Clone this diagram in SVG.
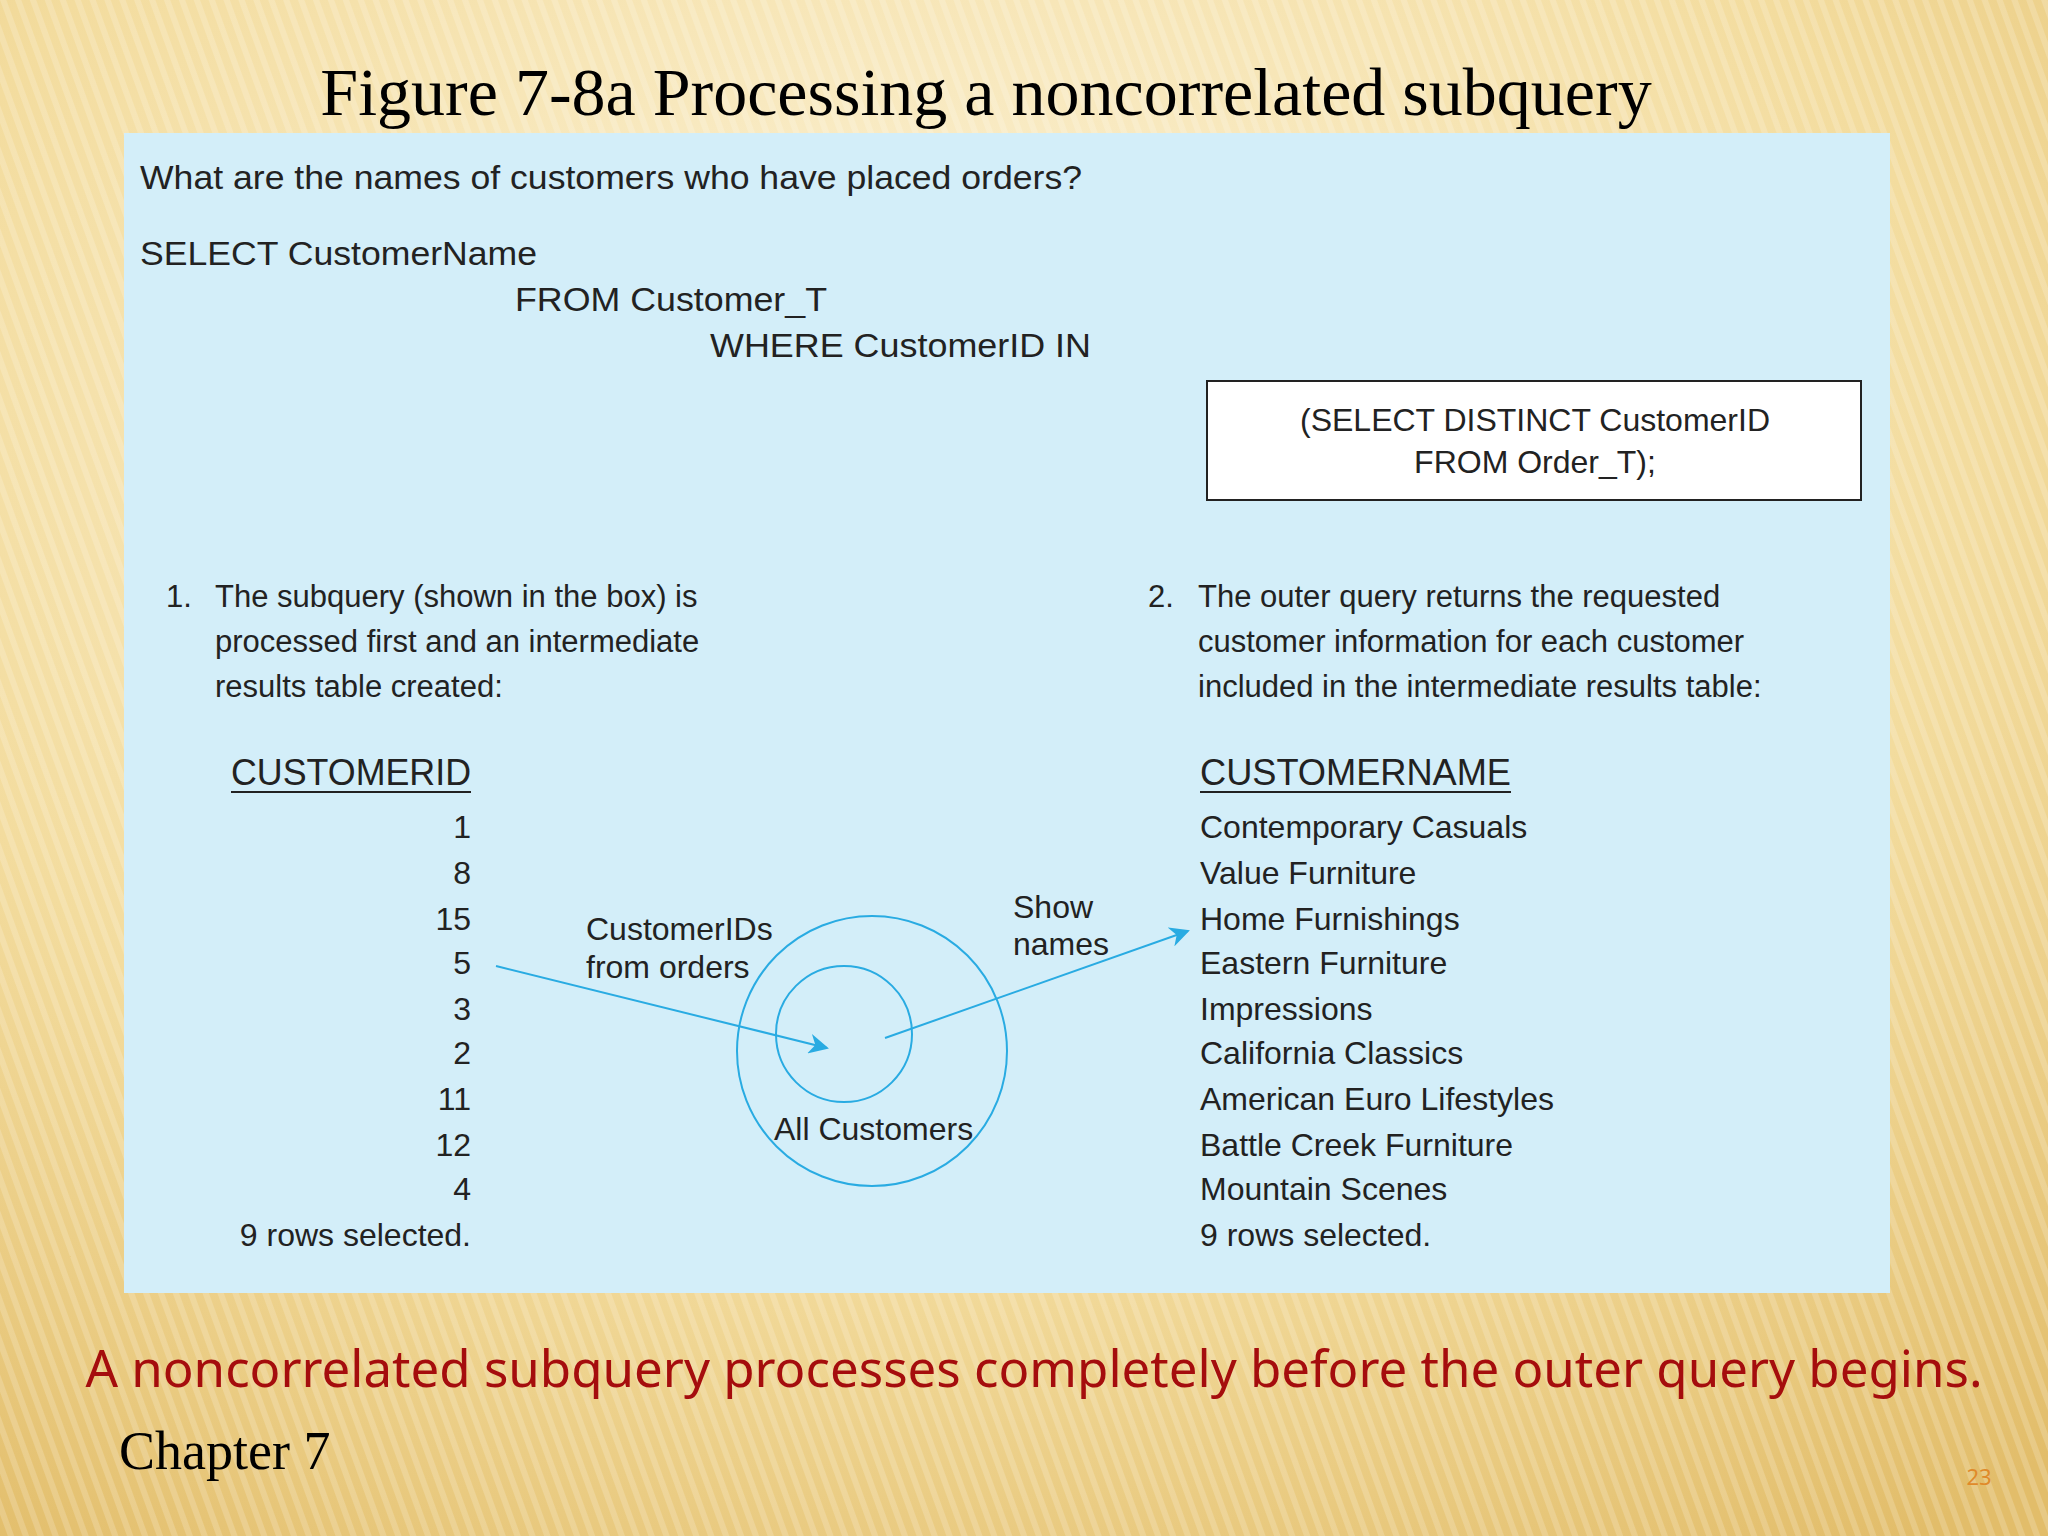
<svg xmlns="http://www.w3.org/2000/svg" width="2048" height="1536" viewBox="0 0 2048 1536">
<defs>
<radialGradient id="bg" cx="0.45" cy="0.3" r="0.85">
<stop offset="0" stop-color="#fdf5de"/><stop offset="0.6" stop-color="#f3dc9e"/><stop offset="1" stop-color="#e2bd6a"/>
</radialGradient>
<pattern id="st" width="14" height="14" patternUnits="userSpaceOnUse" patternTransform="rotate(-20)">
<rect width="6" height="14" fill="#ffffff" opacity="0.18"/>
</pattern>
<marker id="ah" viewBox="0 0 10 10" refX="9" refY="5" markerWidth="20" markerHeight="20" orient="auto" markerUnits="userSpaceOnUse">
<path d="M0,0 L10,5 L0,10 L3,5 z" fill="#29abe2"/>
</marker>
<style>
.s{font-family:"Liberation Sans",Arial,sans-serif;font-size:32px;fill:#222}
.q{font-size:34px}
.p{font-size:31px}
.r{text-anchor:end}
.h{font-size:37px}
.c{stroke:#29abe2;stroke-width:2;fill:none}
</style>
</defs>
<rect width="2048" height="1536" fill="url(#bg)"/>
<rect width="2048" height="1536" fill="url(#st)"/>
<text x="986" y="115" text-anchor="middle" font-family="Liberation Serif,serif" font-size="68" fill="#000">Figure 7-8a Processing a noncorrelated subquery</text>
<rect x="124" y="133" width="1766" height="1160" fill="#d3eef9"/>
<g id="query">
<text class="s q" x="140" y="189" textLength="942" lengthAdjust="spacingAndGlyphs">What are the names of customers who have placed orders?</text>
<text class="s q" x="140" y="265" textLength="397" lengthAdjust="spacingAndGlyphs">SELECT CustomerName</text>
<text class="s q" x="515" y="311" textLength="312" lengthAdjust="spacingAndGlyphs">FROM Customer_T</text>
<text class="s q" x="710" y="357" textLength="381" lengthAdjust="spacingAndGlyphs">WHERE CustomerID IN</text>
</g>
<g id="subbox">
<rect x="1207" y="381" width="654" height="119" fill="#fff" stroke="#222" stroke-width="2"/>
<text class="s" x="1535" y="431" text-anchor="middle">(SELECT DISTINCT CustomerID</text>
<text class="s" x="1535" y="473" text-anchor="middle">FROM Order_T);</text>
</g>
<g id="step1">
<text class="s p" x="166" y="607">1.</text>
<text class="s p" x="215" y="607">The subquery (shown in the box) is</text>
<text class="s p" x="215" y="652">processed first and an intermediate</text>
<text class="s p" x="215" y="697">results table created:</text>
</g>
<g id="step2">
<text class="s p" x="1148" y="607">2.</text>
<text class="s p" x="1198" y="607">The outer query returns the requested</text>
<text class="s p" x="1198" y="652">customer information for each customer</text>
<text class="s p" x="1198" y="697">included in the intermediate results table:</text>
</g>
<g id="ids">
<text class="s r h" x="471" y="785" textLength="240" lengthAdjust="spacingAndGlyphs">CUSTOMERID</text>
<line x1="231" y1="792" x2="471" y2="792" stroke="#222" stroke-width="2"/>
<text class="s r" x="471" y="838">1</text>
<text class="s r" x="471" y="884">8</text>
<text class="s r" x="471" y="930">15</text>
<text class="s r" x="471" y="974">5</text>
<text class="s r" x="471" y="1020">3</text>
<text class="s r" x="471" y="1064">2</text>
<text class="s r" x="471" y="1110">11</text>
<text class="s r" x="471" y="1156">12</text>
<text class="s r" x="471" y="1200">4</text>
<text class="s r" x="471" y="1246">9 rows selected.</text>
</g>
<g id="names">
<text class="s h" x="1200" y="785" textLength="311" lengthAdjust="spacingAndGlyphs">CUSTOMERNAME</text>
<line x1="1200" y1="792" x2="1511" y2="792" stroke="#222" stroke-width="2"/>
<text class="s" x="1200" y="838">Contemporary Casuals</text>
<text class="s" x="1200" y="884">Value Furniture</text>
<text class="s" x="1200" y="930">Home Furnishings</text>
<text class="s" x="1200" y="974">Eastern Furniture</text>
<text class="s" x="1200" y="1020">Impressions</text>
<text class="s" x="1200" y="1064">California Classics</text>
<text class="s" x="1200" y="1110">American Euro Lifestyles</text>
<text class="s" x="1200" y="1156">Battle Creek Furniture</text>
<text class="s" x="1200" y="1200">Mountain Scenes</text>
<text class="s" x="1200" y="1246">9 rows selected.</text>
</g>
<g id="venn">
<circle class="c" cx="872" cy="1051" r="135"/>
<circle class="c" cx="844" cy="1034" r="68"/>
<text class="s" x="774" y="1140">All Customers</text>
<text class="s" x="586" y="940">CustomerIDs</text>
<text class="s" x="586" y="978">from orders</text>
<text class="s" x="1013" y="918">Show</text>
<text class="s" x="1013" y="955">names</text>
</g>
<g id="connectors">
<line class="c" x1="496" y1="966" x2="827" y2="1048" marker-end="url(#ah)"/>
<line class="c" x1="885" y1="1038" x2="1188" y2="931" marker-end="url(#ah)"/>
</g>
<text x="1034" y="1387" text-anchor="middle" font-family="Noto Sans,sans-serif" font-size="51" fill="#a50d0d">A noncorrelated subquery processes completely before the outer query begins.</text>
<text x="119" y="1469" font-family="Liberation Serif,serif" font-size="54" fill="#000">Chapter 7</text>
<text x="1979" y="1485" text-anchor="middle" font-family="Noto Sans,sans-serif" font-size="22" fill="#e08a2a">23</text>
</svg>
